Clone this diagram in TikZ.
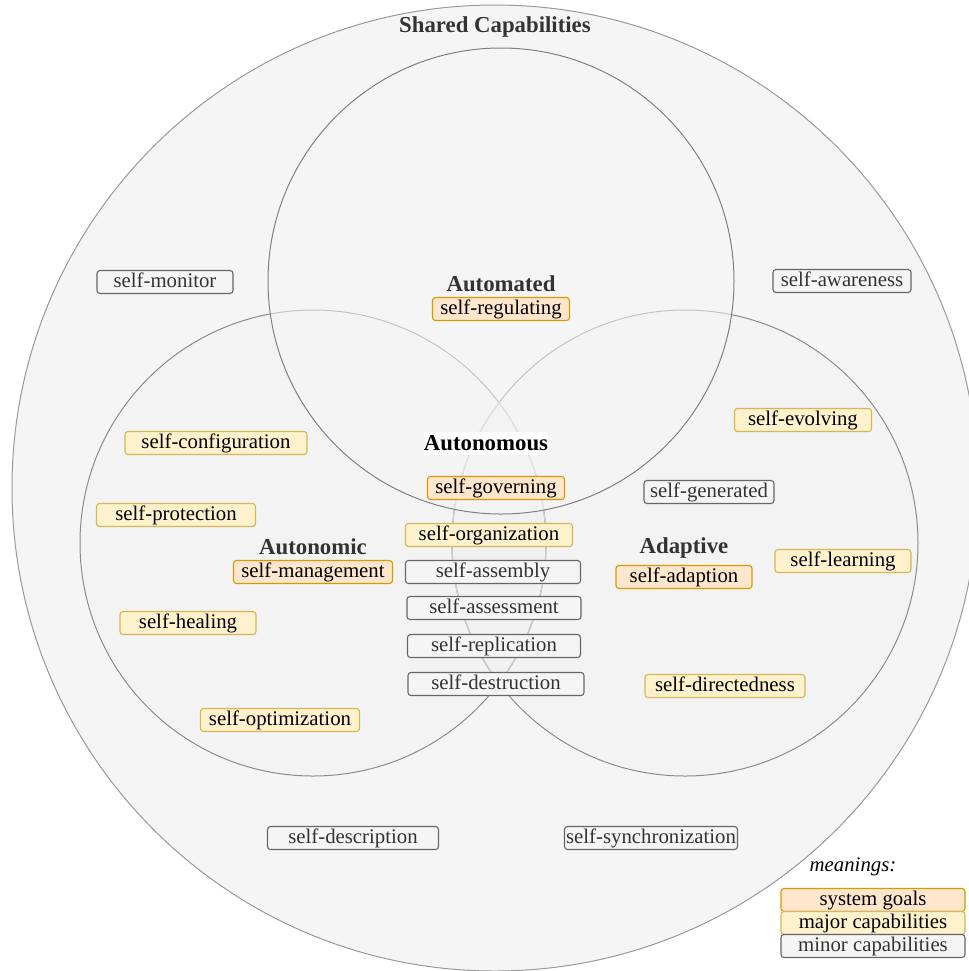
\documentclass[tikz,border=0pt]{standalone}
\usepackage{fontspec}
\setmainfont{Liberation Serif}
\definecolor{goalfill}{HTML}{FFE6CC}
\definecolor{goalline}{HTML}{D79B00}
\definecolor{majorfill}{HTML}{FFF2CC}
\definecolor{majorline}{HTML}{D6B656}
\definecolor{minorfill}{HTML}{F5F5F5}
\definecolor{minorline}{HTML}{666666}
\definecolor{inkgray}{HTML}{333333}
\definecolor{areafill}{HTML}{F5F5F5}
\tikzset{
  capbox/.style={
    rectangle,
    rounded corners=1.5pt,
    minimum height=11.5pt,
    inner sep=0pt,
    line width=0.55pt,
    text height=8pt,
    text depth=2.2pt,
    font=\fontsize{10.4}{12}\selectfont
    },
  goal/.style={
    capbox,
    draw=goalline,
    fill=goalfill,
    text=black
    },
  major/.style={
    capbox,
    draw=majorline,
    fill=majorfill,
    text=black
    },
  minor/.style={
    capbox,
    draw=minorline,
    fill=minorfill,
    text=inkgray
    },
  heading/.style={
    font=\fontsize{11.4}{13}\selectfont\bfseries,
    text=inkgray
    },
  area/.style={
    line width=0.5pt,
    draw=black!45,
    fill=black,
    fill opacity=0.008
    },
}

\begin{document}
\begin{tikzpicture}[x=0.5pt, y=-0.5pt]
\useasboundingbox (0,0) rectangle (969,971);
% circles
\draw[line width=0.5pt, draw=black!40, fill=areafill] (495,488) circle [radius=241.5pt];
\draw[area] (313,543) circle [radius=116.5pt];
\draw[area] (685,543) circle [radius=116.5pt];
\begin{scope}
  \clip (313,543) circle [radius=116.5pt];
  \draw[line width=0.6pt, black!20] (685,543) circle [radius=116.5pt];
\end{scope}
\begin{scope}
  \clip (685,543) circle [radius=116.5pt];
  \draw[line width=0.6pt, black!20] (313,543) circle [radius=116.5pt];
\end{scope}
\draw[line width=0.5pt, draw=black!50, fill=areafill, fill opacity=0.55] (501,281) circle [radius=116.5pt];

% headings
\node (shared) [heading] at (495,27) {Shared Capabilities};
\node (automated) [heading] at (501,284) {Automated};
\node (autonomous) [heading, text=black, fill=white, minimum width=62pt, minimum height=11.5pt, inner sep=0pt] at (486,443) {Autonomous};
\node (autonomic) [heading] at (313,547) {Autonomic};
\node (adaptive) [heading] at (684,548) {Adaptive};

% system goals
\node (regulating) [goal, minimum width=68.5pt] at (501,309) {self-regulating};
\node (governing) [goal, minimum width=68.5pt] at (496,488) {self-governing};
\node (management) [goal, minimum width=79.5pt] at (313,572) {self-management};
\node (adaption) [goal, minimum width=68pt] at (684,577) {self-adaption};

% major capabilities
\node (evolving) [major, minimum width=68.5pt] at (803,420) {self-evolving};
\node (configuration) [major, minimum width=91pt] at (216,443) {self-configuration};
\node (protection) [major, minimum width=79.5pt] at (176,515) {self-protection};
\node (organization) [major, minimum width=83.5pt] at (489,535) {self-organization};
\node (learning) [major, minimum width=68pt] at (843,561) {self-learning};
\node (healing) [major, minimum width=68pt] at (188,623) {self-healing};
\node (directedness) [major, minimum width=80pt] at (725,686) {self-directedness};
\node (optimization) [major, minimum width=79.5pt] at (280,720) {self-optimization};

% minor capabilities
\node (monitor) [minor, minimum width=68pt] at (165,282) {self-monitor};
\node (awareness) [minor, minimum width=69pt] at (842,281) {self-awareness};
\node (generated) [minor, minimum width=65pt] at (709,492) {self-generated};
\node (assembly) [minor, minimum width=87.5pt] at (493,572) {self-assembly};
\node (assessment) [minor, minimum width=87pt] at (494,608) {self-assessment};
\node (replication) [minor, minimum width=86.5pt] at (494,646) {self-replication};
\node (destruction) [minor, minimum width=88pt] at (496,684) {self-destruction};
\node (description) [minor, minimum width=85.5pt] at (353,838) {self-description};
\node (synchronization) [minor, minimum width=86.5pt] at (651,838) {self-synchronization};

% legend
\node (meanings) [font=\fontsize{10.4}{12}\selectfont\itshape] at (853,867) {meanings:};
\node (goals) [goal, minimum width=92pt] at (873,900) {system goals};
\node (majors) [major, minimum width=92pt] at (873,923) {major capabilities};
\node (minors) [minor, minimum width=92pt] at (873,946) {minor capabilities};
\end{tikzpicture}
\end{document}
